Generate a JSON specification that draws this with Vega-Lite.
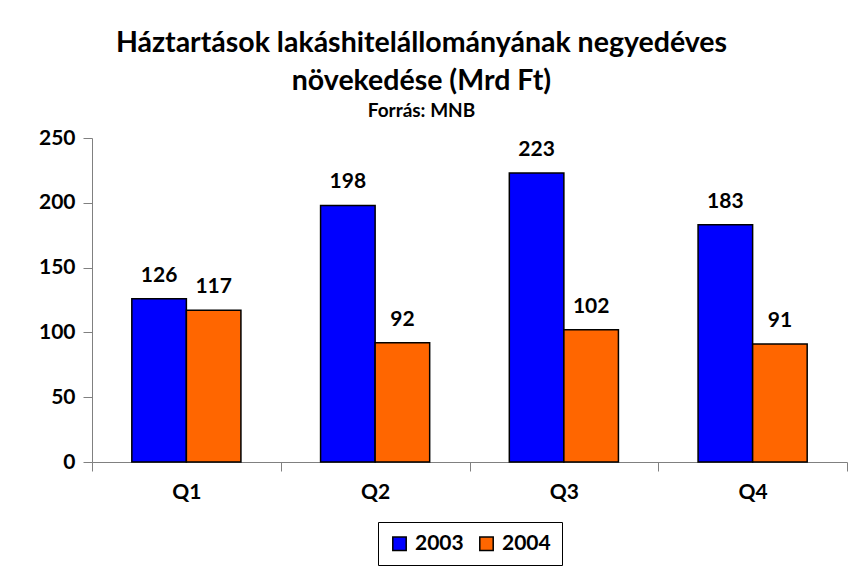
{
  "$schema": "https://vega.github.io/schema/vega-lite/v6.json",
  "autosize": {"type": "fit", "contains": "padding"},
  "width": 849,
  "height": 567,
  "padding": {"left": 38, "right": 1, "top": 28, "bottom": 1},
  "background": "white",
  "config": {
    "font": "Lato",
    "view": {"stroke": null},
    "axis": {"labelFont": "Lato", "labelFontWeight": "bold", "labelFontSize": 21, "labelColor": "black", "domainColor": "#808080", "tickColor": "#808080", "grid": false},
    "legend": {"layout": {"bottom": {"anchor": "middle"}}}
  },
  "title": {
    "text": ["Háztartások lakáshitelállományának negyedéves", "növekedése (Mrd Ft)"],
    "subtitle": "Forrás: MNB",
    "font": "Lato",
    "fontSize": 28.5,
    "fontWeight": "bold",
    "lineHeight": 38,
    "subtitleFont": "Lato",
    "subtitleFontSize": 19,
    "subtitleFontWeight": "bold",
    "subtitleColor": "black",
    "subtitlePadding": 7,
    "color": "black",
    "anchor": "middle",
    "dx": -48,
    "offset": 6
  },
  "data": {
    "values": [
      {"q": "Q1", "year": "2003", "value": 126},
      {"q": "Q1", "year": "2004", "value": 117},
      {"q": "Q2", "year": "2003", "value": 198},
      {"q": "Q2", "year": "2004", "value": 92},
      {"q": "Q3", "year": "2003", "value": 223},
      {"q": "Q3", "year": "2004", "value": 102},
      {"q": "Q4", "year": "2003", "value": 183},
      {"q": "Q4", "year": "2004", "value": 91}
    ]
  },
  "encoding": {
    "x": {"field": "q", "type": "nominal", "title": null,
      "scale": {"paddingInner": 0, "paddingOuter": 0},
      "axis": {"labelAngle": 0, "tickBand": "extent", "tickSize": 9, "labelPadding": 10}},
    "xOffset": {"field": "year", "type": "nominal", "scale": {"paddingInner": 0, "paddingOuter": 0.73}},
    "y": {"field": "value", "type": "quantitative", "title": null,
      "scale": {"domain": [0, 250]},
      "axis": {"values": [0, 50, 100, 150, 200, 250], "tickSize": 9, "labelPadding": 8}}
  },
  "layer": [
    {
      "mark": {"type": "bar", "stroke": "black", "strokeWidth": 1.5},
      "encoding": {
        "color": {"field": "year", "type": "nominal", "title": null,
          "scale": {"domain": ["2003", "2004"], "range": ["#0000FF", "#FF6600"]},
          "legend": {"orient": "bottom", "direction": "horizontal", "symbolType": "square", "symbolSize": 180, "symbolStrokeColor": "black", "symbolStrokeWidth": 1.5, "labelFontSize": 21, "labelFontWeight": "bold", "labelColor": "black", "labelFont": "Lato", "strokeColor": "black", "padding": 11, "offset": 20, "columnPadding": 12, "labelOffset": 5}
        }
      }
    },
    {
      "mark": {"type": "text", "baseline": "bottom", "dy": -13, "fontSize": 21, "fontWeight": "bold", "color": "black", "font": "Lato"},
      "encoding": {"text": {"field": "value", "type": "quantitative"}}
    }
  ]
}
